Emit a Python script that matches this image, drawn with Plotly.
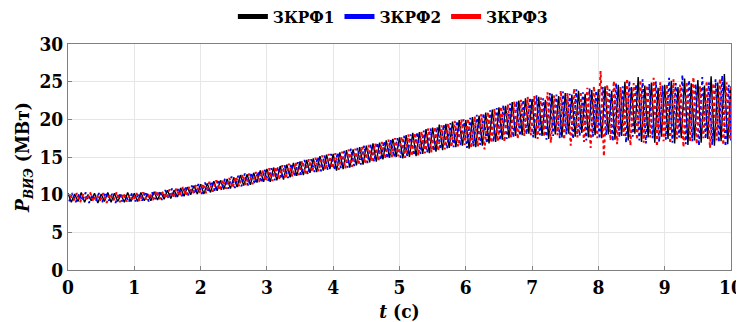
import numpy as np
import plotly.graph_objects as go

names = ["ЗКРФ1", "ЗКРФ2", "ЗКРФ3"]
colors = ["#000000", "#0000ff", "#ff0000"]

# samples every 0.05 s from 0 to 10 s (201 values), each series slightly shifted in time
t_step = 0.05
t_shift = [0.0, 0.017, 0.033]

p1 = [
    10.2, 9.0, 10.1, 9.1, 10.3, 9.0, 10.0, 9.2, 10.2, 8.9, 10.1, 9.1, 10.3, 9.0, 10.2, 9.1, 10.0, 9.0, 10.3, 9.1,
    10.2, 9.1, 10.3, 9.2, 10.1, 9.2, 10.4, 9.3, 10.3, 9.4, 10.6, 9.5, 10.6, 9.7, 10.9, 9.8, 11.0, 10.0, 11.2, 10.1,
    11.4, 10.1, 11.5, 10.3, 11.8, 10.5, 11.9, 10.7, 12.1, 10.8, 12.3, 11.0, 12.6, 11.2, 12.7, 11.3, 12.9, 11.6, 13.2, 11.7,
    13.4, 11.7, 13.6, 11.9, 13.8, 12.0, 14.0, 12.3, 14.2, 12.5, 14.4, 12.6, 14.6, 12.9, 14.8, 13.0, 15.1, 13.2, 15.3, 13.4,
    15.4, 13.2, 15.6, 13.4, 15.9, 13.6, 16.0, 13.9, 16.3, 14.0, 16.5, 14.3, 16.8, 14.4, 16.9, 14.7, 17.2, 14.9, 17.4, 15.0,
    17.6, 14.8, 17.9, 15.0, 18.2, 15.1, 18.3, 15.4, 18.7, 15.5, 18.9, 15.7, 19.3, 15.9, 19.4, 16.2, 19.7, 16.3, 19.9, 16.5,
    19.9, 16.1, 20.3, 16.3, 20.5, 16.5, 20.9, 16.8, 21.3, 17.0, 21.6, 17.3, 21.8, 17.5, 22.3, 17.8, 22.5, 17.9, 22.8, 18.1,
    22.7, 17.5, 23.0, 17.8, 22.6, 17.4, 23.4, 18.0, 23.1, 17.6, 23.5, 18.1, 23.3, 17.7, 23.8, 18.2, 23.4, 17.6, 23.9, 17.9,
    24.0, 17.5, 24.4, 18.0, 23.8, 17.3, 24.6, 17.8, 25.0, 17.2, 24.3, 18.1, 25.6, 17.0, 24.5, 17.6, 24.9, 16.9, 24.2, 17.7,
    24.6, 17.4, 25.1, 16.8, 24.3, 17.5, 25.4, 16.6, 24.8, 17.2, 25.2, 16.9, 24.5, 17.4, 25.7, 16.5, 24.9, 17.1, 26.0, 16.7, 24.4,
]

p2 = [
    9.1, 10.2, 9.0, 10.1, 9.2, 10.3, 8.9, 10.0, 9.1, 10.2, 9.0, 10.3, 9.2, 10.1, 8.9, 10.2, 9.1, 10.0, 9.0, 10.3,
    9.1, 10.2, 9.2, 10.4, 9.1, 10.3, 9.4, 10.5, 9.3, 10.6, 9.5, 10.8, 9.6, 10.9, 9.8, 11.1, 9.9, 11.2, 10.1, 11.4,
    10.1, 11.6, 10.3, 11.8, 10.4, 12.0, 10.6, 12.1, 10.8, 12.4, 10.9, 12.5, 11.1, 12.8, 11.2, 12.9, 11.4, 13.1, 11.6, 13.3,
    11.8, 13.5, 11.9, 13.7, 12.1, 13.9, 12.2, 14.1, 12.4, 14.3, 12.6, 14.6, 12.7, 14.7, 13.0, 15.0, 13.1, 15.2, 13.3, 15.4,
    13.3, 15.6, 13.5, 15.8, 13.6, 16.1, 13.8, 16.2, 14.0, 16.5, 14.2, 16.7, 14.4, 16.9, 14.6, 17.1, 14.8, 17.3, 15.0, 17.5,
    14.9, 17.8, 15.1, 18.0, 15.2, 18.3, 15.4, 18.5, 15.6, 18.8, 15.8, 19.0, 16.0, 19.3, 16.1, 19.5, 16.3, 19.8, 16.5, 20.0,
    16.2, 20.2, 16.4, 20.6, 16.6, 20.8, 16.8, 21.2, 17.0, 21.5, 17.2, 21.9, 17.4, 22.1, 17.6, 22.4, 17.8, 22.6, 18.0, 22.9,
    17.6, 23.2, 17.9, 22.8, 17.3, 23.5, 17.8, 23.3, 17.5, 23.7, 18.0, 23.4, 17.4, 24.0, 17.8, 23.6, 17.2, 24.1, 17.7, 23.8,
    17.4, 24.3, 17.9, 24.0, 17.1, 24.8, 17.6, 24.4, 16.9, 25.1, 17.7, 24.6, 17.2, 25.3, 16.8, 24.7, 17.5, 25.0, 17.0, 24.5,
    17.3, 25.5, 16.9, 24.8, 17.6, 25.9, 16.7, 25.2, 17.1, 24.7, 16.5, 25.6, 17.4, 24.9, 16.6, 25.3, 17.0, 25.8, 16.4, 24.6, 17.2,
]

p3 = [
    9.9, 9.2, 10.2, 9.0, 10.1, 9.3, 10.3, 9.1, 10.0, 9.2, 10.2, 8.9, 10.1, 9.2, 10.3, 9.0, 10.2, 9.1, 10.0, 9.2,
    10.2, 9.1, 10.3, 9.3, 10.2, 9.3, 10.5, 9.4, 10.4, 9.5, 10.7, 9.6, 10.8, 9.8, 11.0, 9.9, 11.1, 10.1, 11.3, 10.2,
    11.5, 10.2, 11.7, 10.4, 11.9, 10.6, 12.0, 10.8, 12.2, 10.9, 12.4, 11.1, 12.7, 11.3, 12.8, 11.4, 13.0, 11.7, 13.2, 11.8,
    13.5, 11.8, 13.7, 12.0, 13.9, 12.1, 14.1, 12.4, 14.3, 12.6, 14.5, 12.7, 14.7, 13.0, 14.9, 13.1, 15.2, 13.3, 15.4, 13.5,
    15.5, 13.3, 15.7, 13.5, 16.0, 13.7, 16.1, 14.0, 16.4, 14.1, 16.6, 14.4, 16.8, 14.5, 17.0, 14.8, 17.3, 15.0, 17.5, 15.1,
    17.7, 14.9, 18.0, 15.1, 18.2, 15.2, 18.4, 15.5, 18.8, 15.6, 19.0, 15.8, 19.2, 16.0, 19.5, 16.3, 19.8, 16.4, 20.0, 16.6,
    20.1, 16.2, 20.4, 16.4, 20.7, 16.0, 21.0, 16.9, 21.4, 17.1, 21.7, 17.0, 22.0, 17.6, 22.4, 17.4, 22.6, 17.8, 23.0, 17.9,
    23.1, 17.4, 22.9, 17.7, 23.6, 16.9, 23.2, 17.9, 23.8, 17.3, 23.5, 16.5, 24.1, 17.6, 23.7, 17.0, 24.2, 16.2, 24.4, 17.5,
    26.4, 15.1, 24.6, 17.2, 25.1, 16.7, 24.3, 17.8, 25.4, 16.5, 24.8, 17.3, 25.2, 16.9, 24.5, 17.6, 25.5, 16.4, 24.9, 17.1,
    24.7, 16.8, 25.3, 17.4, 24.6, 16.3, 25.0, 17.0, 25.6, 16.7, 24.4, 17.5, 25.1, 16.2, 24.8, 17.2, 25.4, 16.6, 24.9, 17.3, 24.5,
]

series = [p1, p2, p3]
dashes = ["solid", "dot", "dot"]
widths = [1.4, 1.8, 2.0]

FONT = "DejaVu Serif Condensed, DejaVu Serif, serif"

fig = go.Figure()
for name, col, vals, sh, dash, w in zip(names, colors, series, t_shift, dashes, widths):
    t = np.arange(len(vals)) * t_step + sh
    t = np.clip(t, 0, 10)
    fig.add_trace(go.Scatter(x=t, y=vals, mode="lines", name=name, showlegend=False,
                             line=dict(color=col, width=w, dash=dash)))
# legend entries
for name, col in zip(names, colors):
    fig.add_trace(go.Scatter(x=[None], y=[None], mode="lines", name="<b>" + name + "</b>",
                             line=dict(color=col, width=5)))

# page body has an 8px margin, so the figure is drawn 8px smaller
fig.update_layout(
    width=736, height=314,
    margin=dict(l=60, r=13, t=36, b=52, autoexpand=False),
    paper_bgcolor="white", plot_bgcolor="white",
    font=dict(family=FONT, size=18, color="black"),
    legend=dict(orientation="h", x=0.49, xanchor="center", y=1.12, yanchor="middle",
                font=dict(family=FONT, size=17, color="black"),
                itemwidth=30, tracegroupgap=0, bgcolor="rgba(0,0,0,0)"),
    showlegend=True,
)
fig.update_xaxes(range=[0, 10], dtick=1, tick0=0, showgrid=True, gridcolor="#e6e6e6",
                 showline=True, linecolor="#808080", linewidth=1, mirror=True,
                 ticks="inside", ticklen=4, tickcolor="#808080", zeroline=False,
                 automargin=False,
                 tickvals=list(range(11)), ticktext=["<b>%d</b>" % v for v in range(11)],
                 tickfont=dict(family=FONT, size=19, color="black"),
                 title=dict(text="<b><i>t</i> (с)</b>", standoff=8,
                            font=dict(family=FONT, size=19, color="black")))
fig.update_yaxes(range=[0, 30], dtick=5, tick0=0, showgrid=True, gridcolor="#e6e6e6",
                 showline=True, linecolor="#808080", linewidth=1, mirror=True,
                 ticks="inside", ticklen=4, tickcolor="#808080", zeroline=False,
                 automargin=False,
                 tickvals=list(range(0, 31, 5)), ticktext=["<b>%d</b>" % v for v in range(0, 31, 5)],
                 tickfont=dict(family=FONT, size=19, color="black"),
                 title=dict(text="<b><i>P</i><sub><i>ВИЭ</i></sub> (МВт)</b>", standoff=4,
                            font=dict(family=FONT, size=19, color="black")))

fig.write_html("out.html")
